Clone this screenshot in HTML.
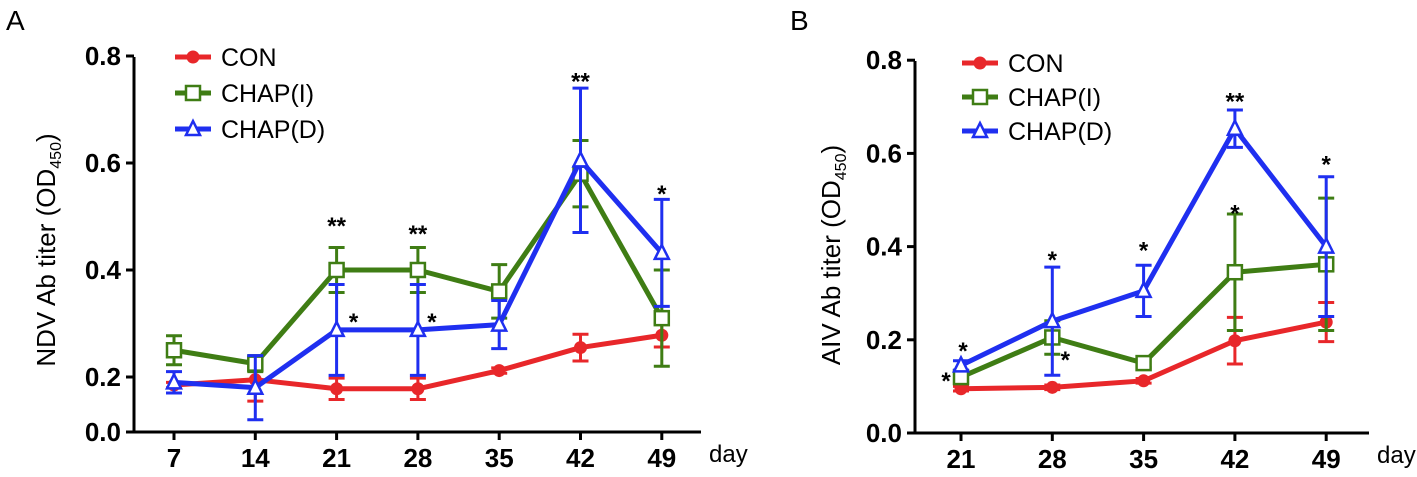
<!DOCTYPE html>
<html><head><meta charset="utf-8"><style>
body{margin:0;background:#fff;width:1417px;height:477px;overflow:hidden}
svg{display:block;font-family:"Liberation Sans Narrow","Liberation Sans",sans-serif}
.tk{font-weight:bold;font-size:26px}
</style></head><body>
<svg id="c" width="1417" height="477"></svg>
<script>
const daysA=[7,14,21,28,35,42,49];
const conA=[0.185,0.195,0.178,0.178,0.212,0.255,0.278];
const conAErr=[0.005,0.04,0.02,0.02,0.005,0.025,0.022];
const chapIA=[0.25,0.225,0.40,0.40,0.36,0.58,0.31];
const chapIAErr=[0.027,0.015,0.042,0.042,0.05,0.062,0.09];
const chapDA=[0.19,0.18,0.288,0.288,0.298,0.605,0.432];
const chapDAErr=[0.02,0.06,0.085,0.085,0.045,0.135,0.1];
const ticksA=["0.0","0.2","0.4","0.6","0.8"];
const starsA=[[21,"**",0.49],[21,"*",0.31,17],[28,"**",0.475],[28,"*",0.31,14],[42,"**",0.76],[49,"*",0.55]];
const daysB=[21,28,35,42,49];
const conB=[0.095,0.098,0.112,0.198,0.238];
const conBErr=[0.005,0.005,0.005,0.05,0.042];
const chapIB=[0.12,0.205,0.15,0.345,0.362];
const chapIBErr=[0.012,0.036,0.01,0.125,0.142];
const chapDB=[0.145,0.24,0.305,0.653,0.40];
const chapDBErr=[0.01,0.116,0.055,0.04,0.15];
const ticksB=["0.0","0.2","0.4","0.6","0.8"];
const starsB=[[21,"*",0.185,2],[21,"*",0.12,-15],[28,"*",0.38],[28,"*",0.165,13],[35,"*",0.40],[42,"**",0.72],[42,"*",0.48],[49,"*",0.585]];

const NS="http://www.w3.org/2000/svg",svg=document.getElementById('c');
function el(t,a,p){const e=document.createElementNS(NS,t);for(const k in a)e.setAttribute(k,a[k]);(p||svg).appendChild(e);return e;}
const RED="#e8272a",GREEN="#3f7d14",BLUE="#1f2ff0";

function panel(cfg){
  const g=el('g',{});
  
  
  const x=d=>cfg.x0+(d-cfg.days[0])/7*cfg.dx;
  const y=cfg.y;
  const ax=el('path',{d:`M${cfg.ax} ${cfg.top}V${cfg.bot}H${cfg.axEnd}`,stroke:'#000','stroke-width':3,fill:'none'},g);
  
  cfg.ticks.forEach((t,i)=>{
    const yy=i===0?cfg.bot:y(parseFloat(t));
    el('line',{x1:cfg.ax-8,x2:cfg.ax,y1:yy,y2:yy,stroke:'#000','stroke-width':3},g);
    const tx=el('text',{x:cfg.ax-13,y:yy+9,'text-anchor':'end',class:'tk'},g);
    tx.textContent=t;
    
  });
  cfg.days.forEach(d=>{
    el('line',{x1:x(d),x2:x(d),y1:cfg.bot,y2:cfg.bot+8,stroke:'#000','stroke-width':3},g);
    const tx=el('text',{x:x(d),y:cfg.bot+35,'text-anchor':'middle',class:'tk'},g);
    tx.textContent=d;
    
  });
  const dy=el('text',{x:cfg.axEnd+8,y:cfg.bot+30,'font-size':24},g);dy.textContent='day';
  
  const yl=el('text',{transform:`translate(${cfg.ylx},${cfg.yly}) rotate(-90)`,'text-anchor':'middle','font-size':26,'font-family':'Liberation Sans, sans-serif'},g);
  yl.innerHTML=cfg.ytitle+' (OD<tspan font-size="16" dy="6">450</tspan><tspan dy="-6">)</tspan>';
  
  const lt=el('text',{x:cfg.pl[0],y:cfg.pl[1],'font-size':28,'font-family':'Liberation Sans, sans-serif'});lt.textContent=cfg.letter;
  
  cfg.series.forEach((s,si)=>{
    const sg=el('g',{},g);
    
    s.v.forEach((v,i)=>{
      const xx=x(cfg.days[i]),e=s.e[i];
      el('path',{d:`M${xx} ${y(v-e)}V${y(v+e)}M${xx-8} ${y(v-e)}h16M${xx-8} ${y(v+e)}h16`,stroke:s.c,'stroke-width':3,fill:'none'},sg);
    });
    el('polyline',{points:s.v.map((v,i)=>x(cfg.days[i])+','+y(v)).join(' '),fill:'none',stroke:s.c,'stroke-width':5,'stroke-linejoin':'round'},sg);
    s.v.forEach((v,i)=>marker(sg,s.m,x(cfg.days[i]),y(v),s.c));
    const ly=cfg.ly+si*cfg.lsp;
    const lg=el('g',{});
    
    el('line',{x1:cfg.lx,x2:cfg.lx+36,y1:ly,y2:ly,stroke:s.c,'stroke-width':5},lg);
    marker(lg,s.m,cfg.lx+18,ly,s.c);
    const t=el('text',{x:cfg.lx+46,y:ly+9,'font-size':25},lg);t.textContent=s.label;
  });
  cfg.stars.forEach(st=>{
    const t=el('text',{x:x(st[0])+(st[3]||0),y:y(st[2])+12,'text-anchor':'middle','font-size':24,'font-weight':'bold'},g);
    t.textContent=st[1];
    
  });
}
function marker(p,m,x,y,c){
  if(m==='c')el('circle',{cx:x,cy:y,r:6.5,fill:c},p);
  else if(m==='s')el('rect',{x:x-7,y:y-7,width:14,height:14,fill:'#fff',stroke:c,'stroke-width':2.5},p);
  else el('path',{d:`M${x} ${y-8}L${x+7} ${y+6}H${x-7}Z`,fill:'#fff',stroke:c,'stroke-width':2.5},p);
}
panel({name:'panel-a-ndv',letter:'A',pl:[6,30],days:daysA,x0:174,dx:81.3,ax:134,axEnd:701,top:57,bot:432,
  y:v=>377-(v-0.2)*535,ticks:ticksA,ytitle:'NDV Ab titer',ylx:55,yly:250,lx:175,ly:57,lsp:36,
  series:[{key:'con',label:'CON',v:conA,e:conAErr,c:RED,m:'c'},{key:'chap-i',label:'CHAP(I)',v:chapIA,e:chapIAErr,c:GREEN,m:'s'},{key:'chap-d',label:'CHAP(D)',v:chapDA,e:chapDAErr,c:BLUE,m:'t'}],stars:starsA});
panel({name:'panel-b-aiv',letter:'B',pl:[790,30],days:daysB,x0:961,dx:91.3,ax:915,axEnd:1369,top:61,bot:433,
  y:v=>433-v*466,ticks:ticksB,ytitle:'AIV Ab titer',ylx:840,yly:255,lx:962,ly:63,lsp:34,
  series:[{key:'con',label:'CON',v:conB,e:conBErr,c:RED,m:'c'},{key:'chap-i',label:'CHAP(I)',v:chapIB,e:chapIBErr,c:GREEN,m:'s'},{key:'chap-d',label:'CHAP(D)',v:chapDB,e:chapDBErr,c:BLUE,m:'t'}],stars:starsB});
</script>
</body></html>
